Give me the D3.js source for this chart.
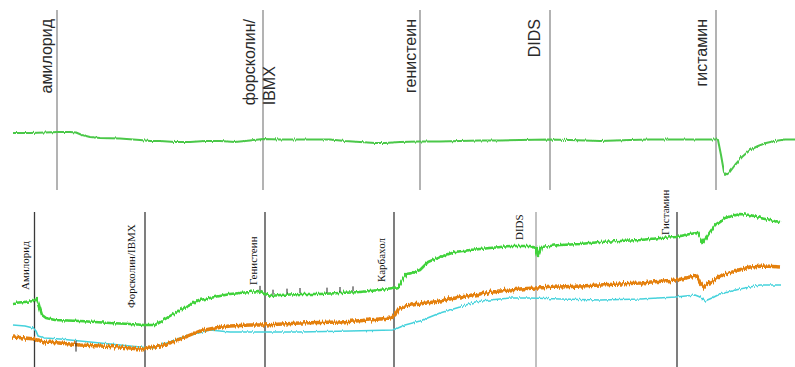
<!DOCTYPE html>
<html>
<head>
<meta charset="utf-8">
<script src="https://cdn.jsdelivr.net/npm/d3@7"></script>
<style>
  html, body { margin: 0; padding: 0; background: #fff; }
  svg { display: block; }
</style>
</head>
<body>
<svg id="chart" width="795" height="367"></svg>
<script>
// ---- Upper record: single trace, time index vs signal ----
const topTime = [0, 17, 32, 45, 57, 63, 69, 77, 87, 107, 127, 137, 147, 162, 177, 192, 207, 222, 237, 250,
  267, 287, 317, 332, 347, 362, 372, 387, 406, 427, 447, 467, 487, 507, 536, 557, 587, 617, 637, 667,
  687, 703, 705, 708, 711, 713, 716, 722, 729, 737, 745, 753, 762, 772, 782];
const topSignal = [7, 7, 7.5, 8, 8, 7.5, 5, 3, 2, 1.5, 0, -1, -1, -2, -2, -1, -1, -2, -0.5, 1,
  0.5, 0.5, 0.5, -1, -2, -3, -3, -2, -1.5, -1.5, -1, -0.5, -0.5, 0, 0.5, 0, -1, 0, 0.5, 0.5,
  0.5, 0.5, 0, -15, -32, -35, -33, -25, -17, -10, -6, -3, -1, 0.5, 0.5];
const topEvents = [44, 250, 407, 537, 703];
const topLabels = [["амилорид"], ["форсколин/", "IBMX"], ["генистеин"], ["DIDS"], ["гистамин"]];

// ---- Lower record: three traces ----
const greenTime = [0, 12, 21, 24, 26, 29, 33, 42, 67, 97, 117, 131, 142, 149, 157, 167, 177, 187, 202, 217,
  237, 245, 252, 257, 267, 287, 307, 327, 347, 367, 380, 385, 389, 393, 399, 407, 415, 427, 442, 457,
  477, 497, 517, 523, 525, 528, 547, 567, 587, 607, 627, 647, 663, 677, 684, 687, 690, 695, 702, 712,
  727, 737, 747, 757, 767];
const greenValues = [64, 65, 66, 68, 62, 52, 49, 47, 46, 44, 43, 42, 42, 46, 51, 57, 62, 67, 70, 73,
  75, 76, 73, 71, 72, 73, 73, 74, 75, 77, 79, 80, 87, 93, 94, 97, 105, 110, 115, 117,
  119, 121, 121, 119, 111, 120, 122, 123, 125, 126, 127, 129, 130, 133, 134, 129, 124, 132, 142, 149,
  153, 152, 149, 147, 145];

const orangeTime = [0, 12, 21, 25, 32, 47, 67, 87, 107, 127, 137, 147, 157, 167, 177, 187, 202, 217, 237, 252,
  287, 327, 357, 377, 381, 385, 392, 407, 427, 447, 467, 487, 507, 523, 547, 587, 627, 663, 677, 684,
  687, 691, 697, 707, 722, 737, 752, 767];
const orangeValues = [30, 29, 28, 27, 25, 24, 22, 21, 20, 18, 19, 21, 24, 28, 32, 36, 39, 41, 42, 42,
  44, 45, 47, 49, 51, 58, 61, 63, 66, 70, 73, 76, 78, 79, 80, 82, 84, 87, 90, 91,
  84, 80, 84, 91, 96, 100, 101, 100];

const cyanTime = [0, 12, 20, 23, 25, 32, 47, 67, 87, 107, 127, 137, 147, 157, 167, 182, 197, 217, 252, 287,
  337, 380, 385, 392, 407, 427, 447, 462, 477, 497, 517, 547, 587, 627, 663, 682, 687, 692, 699, 707,
  727, 747, 767];
const cyanValues = [42, 41, 39, 36, 31, 29, 28, 26, 24, 22, 20, 19, 22, 25, 29, 33, 37, 35, 35, 35,
  36, 37, 39, 42, 46, 54, 60, 65, 67, 69, 69, 68, 67, 68, 70, 72, 70, 66, 69, 73,
  78, 82, 82];

const bottomEvents = [21.5, 132, 252, 381, 523, 664];
const bottomLabels = ["Амилорид", "Форсколин/IBMX", "Генистеин", "Карбахол", "DIDS", "Гистамин"];
const greenTicks = [247, 260, 274, 287, 314, 327, 340];
const orangeTicks = [63];

// ---- Layout ----
const svg = d3.select("#chart");

const xTop = d3.scaleLinear().domain([0, 782]).range([13, 795]);
const yTop = d3.scaleLinear().domain([-40, 20]).range([180, 120]);
const xBot = d3.scaleLinear().domain([0, 767]).range([13, 780]);
const yBot = d3.scaleLinear().domain([0, 160]).range([367, 207]);

// label placement: baseline offset from the event line (px) and anchor along the line
const topLabelDx = [-5, -8, -4, -10, -9];
const topLabelTop = 19;
const bottomLabelDx = [-6, -10, -8, -9, -13, -8];
const bottomLabelBase = [290, 308, 285, 282, 240, 235];

// recorder jitter: columns of the trace are shifted by a fine-grained noise field
const defs = svg.append("defs");
function jitter(id, scale, seed) {
  const f = defs.append("filter").attr("id", id)
    .attr("filterUnits", "userSpaceOnUse")
    .attr("x", 0).attr("y", 0).attr("width", 795).attr("height", 367);
  f.append("feTurbulence").attr("type", "fractalNoise")
    .attr("baseFrequency", "0.9 0.015").attr("numOctaves", 2).attr("seed", seed)
    .attr("result", "noise");
  f.append("feDisplacementMap").attr("in", "SourceGraphic").attr("in2", "noise")
    .attr("scale", scale).attr("xChannelSelector", "R").attr("yChannelSelector", "G");
}
jitter("jTop", 3, 3);
jitter("jGreen", 4, 7);
jitter("jOrange", 6, 11);
jitter("jCyan", 3, 5);

// upper event lines
svg.append("g").selectAll("line").data(topEvents).join("line")
  .attr("x1", d => xTop(d)).attr("x2", d => xTop(d))
  .attr("y1", 10).attr("y2", 190)
  .attr("stroke", "#8a8a8a").attr("stroke-width", 1.3);

// upper labels (rotated, reading upward)
const topLabelG = svg.append("g")
  .attr("font-family", "'Liberation Sans', Arial, sans-serif")
  .attr("font-size", 16).attr("fill", "#2a2a2a");
topLabels.forEach((lines, i) => {
  const bx = xTop(topEvents[i]) + topLabelDx[i];
  // first line ends at the top margin; following lines start where it starts
  const first = topLabelG.append("text")
    .attr("transform", `translate(${bx},${topLabelTop}) rotate(-90)`)
    .attr("text-anchor", "end").text(lines[0]);
  const len = first.node().getComputedTextLength();
  lines.slice(1).forEach((s, k) => {
    topLabelG.append("text")
      .attr("transform", `translate(${bx + 20 * (k + 1)},${topLabelTop + len}) rotate(-90)`)
      .attr("text-anchor", "start").text(s);
  });
});

// upper trace
const topLine = d3.line().x(d => xTop(d[0])).y(d => yTop(d[1]));
svg.append("path")
  .datum(d3.zip(topTime, topSignal))
  .attr("d", topLine)
  .attr("fill", "none").attr("stroke", "#4cc84a").attr("stroke-width", 2)
  .attr("stroke-linejoin", "round")
  .attr("filter", "url(#jTop)");

// lower event lines
svg.append("g").selectAll("line").data(bottomEvents).join("line")
  .attr("x1", d => xBot(d)).attr("x2", d => xBot(d))
  .attr("y1", 212).attr("y2", 367)
  .attr("stroke", (d, i) => i === 4 ? "#a0a0a0" : "#3a3a3a")
  .attr("stroke-width", 1.3);

// lower labels
const botLabelG = svg.append("g")
  .attr("font-family", "'Liberation Serif', 'Times New Roman', serif")
  .attr("font-size", 11).attr("fill", "#111");
bottomLabels.forEach((s, i) => {
  botLabelG.append("text")
    .attr("transform", `translate(${xBot(bottomEvents[i]) + bottomLabelDx[i]},${bottomLabelBase[i]}) rotate(-90)`)
    .attr("text-anchor", "start").text(s);
});

// lower traces
const botLine = d3.line().x(d => xBot(d[0])).y(d => yBot(d[1]));
const series = [
  { t: cyanTime, v: cyanValues, color: "#46d2dc", w: 1.7, f: "jCyan" },
  { t: orangeTime, v: orangeValues, color: "#e4800f", w: 3.4, f: "jOrange" },
  { t: greenTime, v: greenValues, color: "#3fd23a", w: 2.6, f: "jGreen" }
];
series.forEach(s => {
  svg.append("path")
    .datum(d3.zip(s.t, s.v))
    .attr("d", botLine)
    .attr("fill", "none").attr("stroke", s.color).attr("stroke-width", s.w)
    .attr("stroke-linejoin", "round")
    .attr("filter", `url(#${s.f})`);
});

// small event ticks on the traces
const greenAt = t => d3.scaleLinear().domain(greenTime).range(greenValues)(t);
const orangeAt = t => d3.scaleLinear().domain(orangeTime).range(orangeValues)(t);
svg.append("g").selectAll("line").data(greenTicks).join("line")
  .attr("x1", d => xBot(d)).attr("x2", d => xBot(d))
  .attr("y1", d => yBot(greenAt(d)) - 1).attr("y2", d => yBot(greenAt(d)) - 6)
  .attr("stroke", "#222").attr("stroke-width", 1);
svg.append("g").selectAll("line").data(orangeTicks).join("line")
  .attr("x1", d => xBot(d)).attr("x2", d => xBot(d))
  .attr("y1", d => yBot(orangeAt(d)) - 4).attr("y2", d => yBot(orangeAt(d)) + 7)
  .attr("stroke", "#222").attr("stroke-width", 1);
</script>
</body>
</html>
